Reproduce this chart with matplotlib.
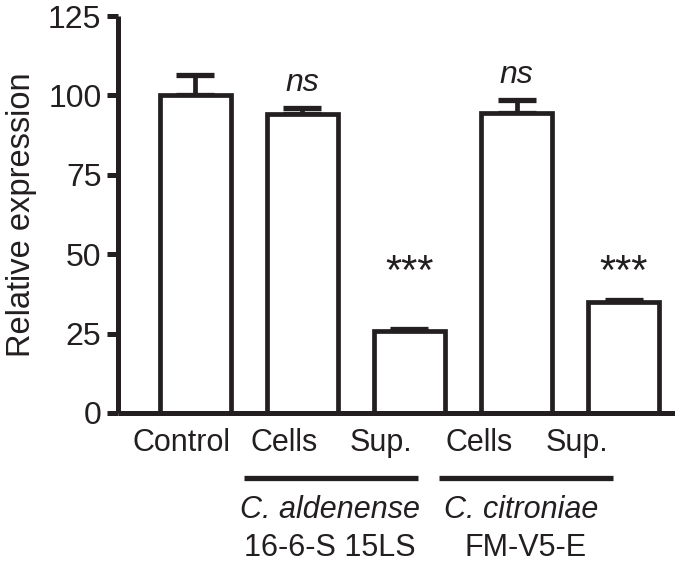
import matplotlib
matplotlib.use('Agg')
import matplotlib.pyplot as plt
import matplotlib.transforms as mtransforms

# Data
categories = ['Control', 'Cells', 'Sup.', 'Cells', 'Sup.']
values = [100, 94.3, 25.8, 94.6, 34.8]
errors = [6.5, 1.8, 0.6, 4.0, 0.8]
annotations = ['', 'ns', '***', 'ns', '***']
groups = [('C. aldenense', '16-6-S 15LS'), ('C. citroniae', 'FM-V5-E')]
yticks = [0, 25, 50, 75, 100, 125]

ink = '#231f20'
plt.rcParams['font.family'] = ['Liberation Sans', 'DejaVu Sans']

fig = plt.figure(figsize=(6.75, 5.72), dpi=100)
ax = fig.add_axes([0.175, 0.278, 0.825, 0.694])

pos = list(range(len(values)))
ax.bar(pos, values, width=0.66, color='white', edgecolor=ink, linewidth=3.4, zorder=2)
ax.errorbar(pos, values, yerr=[[0] * len(errors), errors], fmt='none', ecolor=ink,
            elinewidth=3.4, capsize=14, capthick=3.8, zorder=1)

ax.set_xlim(-0.72, 4.48)
ax.set_ylim(0, 125)
ax.set_yticks(yticks)
ax.set_yticklabels([str(t) for t in yticks], fontsize=23, color=ink)
ax.tick_params(axis='y', length=8, width=3.6, color=ink, pad=4)
ax.set_xticks([])
for s in ['top', 'right']:
    ax.spines[s].set_visible(False)
for s in ['left', 'bottom']:
    ax.spines[s].set_linewidth(3.6)
    ax.spines[s].set_color(ink)
    ax.spines[s].set_capstyle('butt')
ax.set_ylabel('Relative expression', fontsize=23.5, color=ink, labelpad=8)

# significance marks
for p, v, e, a in zip(pos, values, errors, annotations):
    if a == 'ns':
        ax.text(p, v + e + 7.8, a, ha='center', va='center', fontsize=23,
                style='italic', color=ink)
    elif a:
        ax.text(p, 40.5, a, ha='center', va='baseline', fontsize=30, color=ink)

# category labels below axis
trans = mtransforms.blended_transform_factory(ax.transData, ax.transAxes)
label_x = [-0.13, 0.83, 1.73, 2.65, 3.56]
for lx, c in zip(label_x, categories):
    ax.text(lx, -0.075, c, transform=trans, ha='center', va='center',
            fontsize=22, color=ink, clip_on=False)

# group bars and names
spans = [(0.457, 2.08), (2.275, 3.9)]
name_x = [1.26, 3.04]
strain_x = [1.26, 3.08]
for (x0, x1), nx, sx, (name, strain) in zip(spans, name_x, strain_x, groups):
    ax.plot([x0, x1], [-0.164, -0.164], transform=trans, color=ink, lw=3.8,
            clip_on=False, solid_capstyle='butt')
    ax.text(nx, -0.245, name, transform=trans, ha='center', va='center',
            fontsize=22, style='italic', color=ink, clip_on=False)
    ax.text(sx, -0.34, strain, transform=trans, ha='center', va='center',
            fontsize=22, color=ink, clip_on=False)

fig.savefig('out.png', dpi=100)
